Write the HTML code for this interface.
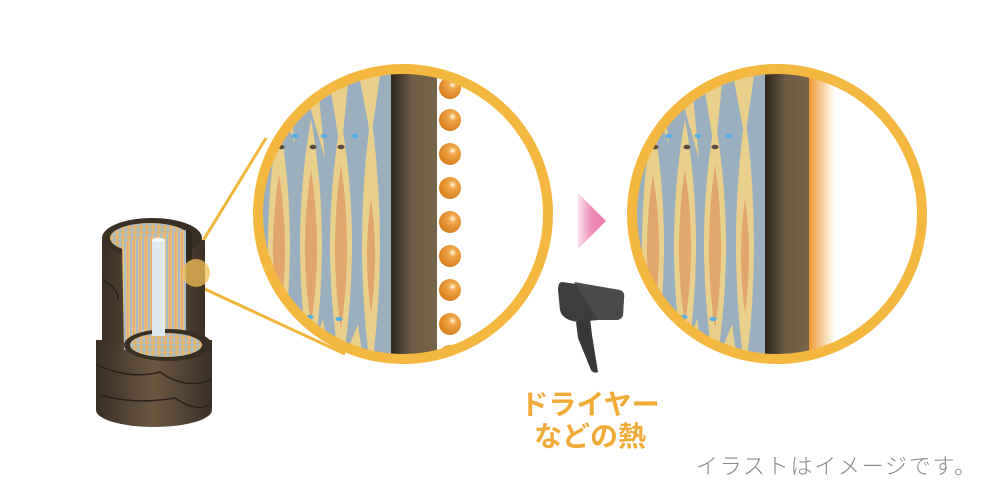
<!DOCTYPE html>
<html><head><meta charset="utf-8"><style>
html,body{margin:0;padding:0;background:#fff;}
svg{display:block;}
</style></head><body>
<svg width="988" height="496" viewBox="0 0 988 496" xmlns="http://www.w3.org/2000/svg">
<defs>
<linearGradient id="brown" x1="0" x2="1" y1="0" y2="0">
<stop offset="0" stop-color="#2e261c"/><stop offset="0.45" stop-color="#6c5c44"/><stop offset="1" stop-color="#76654b"/>
</linearGradient>
<linearGradient id="heat" x1="0" x2="1">
<stop offset="0" stop-color="#ec9a32"/><stop offset="1" stop-color="#ffffff"/>
</linearGradient>
<linearGradient id="pink" x1="0" x2="1">
<stop offset="0" stop-color="#fbe2ee"/><stop offset="0.5" stop-color="#ee8ab6"/><stop offset="1" stop-color="#e97aab"/>
</linearGradient>
<radialGradient id="bead" cx="0.62" cy="0.35" r="0.7">
<stop offset="0" stop-color="#fff6e8"/><stop offset="0.25" stop-color="#f1a84a"/><stop offset="1" stop-color="#d47a16"/>
</radialGradient>
<linearGradient id="bark" x1="0" x2="1">
<stop offset="0" stop-color="#3a2f24"/><stop offset="0.5" stop-color="#6a5740"/><stop offset="1" stop-color="#3b3026"/>
</linearGradient>
<pattern id="fib" width="6" height="10" patternUnits="userSpaceOnUse">
<rect width="6" height="10" fill="#e9c47e"/><rect x="4" width="2" height="10" fill="#a9bccb"/><rect x="1" width="1.5" height="10" fill="#e5a874"/>
</pattern>
<pattern id="dots" width="6" height="5" patternUnits="userSpaceOnUse">
<rect width="6" height="5" fill="#a9bccb"/><circle cx="3" cy="2.5" r="2.3" fill="#e8b66a"/>
</pattern>
<clipPath id="c1"><circle cx="0" cy="0" r="141"/></clipPath>
<g id="cortex">
<rect x="-160" y="-160" width="150" height="320" fill="#9bb0be"/>
<g fill="#e8cf8c">
<path d="M-124,-95 Q-102,30 -124,160 Q-146,30 -124,-95Z"/>
<path d="M-92,-95 Q-70,30 -92,160 Q-114,30 -92,-95Z"/>
<path d="M-62,-95 Q-40,30 -62,160 Q-84,30 -62,-95Z"/>
<path d="M-32,-100 Q-14,30 -32,160 Q-50,30 -32,-100Z"/>
<path d="M-140,-160 L-120,-160 L-108,-70 Z"/>
<path d="M-108,-160 L-88,-160 L-78,-55 Z"/>
<path d="M-78,-160 L-52,-160 L-62,-60 Z"/>
<path d="M-48,-160 L-20,-160 L-32,-75 Z"/>
<path d="M-150,160 L-120,100 L-110,160Z"/>
<path d="M-100,160 L-80,105 L-70,160Z"/>
<path d="M-65,160 L-45,110 L-38,160Z"/>
</g>
<g fill="#e2a66c">
<path d="M-124,-40 Q-112,35 -124,110 Q-136,35 -124,-40Z"/>
<path d="M-92,-45 Q-80,35 -92,110 Q-104,35 -92,-45Z"/>
<path d="M-62,-50 Q-50,35 -62,115 Q-74,35 -62,-50Z"/>
<path d="M-32,-15 Q-24,40 -32,100 Q-40,40 -32,-15Z"/>
</g>
<g fill="#5aaee6">
<ellipse cx="-108" cy="-78" rx="3.5" ry="2.2"/><ellipse cx="-79" cy="-78" rx="3.5" ry="2.2"/><ellipse cx="-48" cy="-78" rx="3.5" ry="2.2"/>
<ellipse cx="-93" cy="103" rx="3.5" ry="2.2"/><ellipse cx="-64" cy="105" rx="3.5" ry="2.2"/>
</g>
<g fill="#5a4c3e">
<ellipse cx="-122" cy="-67" rx="3.5" ry="2.3"/><ellipse cx="-90" cy="-67" rx="3.5" ry="2.3"/><ellipse cx="-62" cy="-67" rx="3.5" ry="2.3"/>
</g>
<rect x="-12" y="-160" width="46" height="320" fill="url(#brown)"/>
</g>
</defs>

<!-- connector lines -->
<line x1="190" y1="262" x2="266" y2="138" stroke="#f2b53e" stroke-width="3"/>
<line x1="196" y1="285" x2="345" y2="354" stroke="#f2b53e" stroke-width="3"/>

<!-- hair cylinder -->
<g>
<path d="M96,340 L96,410 A58,17 0 0 0 212,410 L212,340 Z" fill="url(#bark)"/>
<path d="M102,240 L102,345 L205,345 L205,240 Z" fill="url(#bark)"/>
<path d="M97,365 Q130,380 160,372 Q185,390 211,380" stroke="#2a2219" stroke-width="1.5" fill="none"/>
<path d="M100,395 Q135,405 175,398 Q195,412 210,405" stroke="#2a2219" stroke-width="1.5" fill="none"/>
<path d="M103,280 Q120,290 118,300" stroke="#2a2219" stroke-width="1.5" fill="none"/>
<ellipse cx="152" cy="238" rx="50" ry="20" fill="#3a2f24"/>
<ellipse cx="150" cy="238" rx="40" ry="15" fill="url(#dots)"/>
<polygon points="122,242 186,230 186,338 124,350" fill="url(#fib)"/>
<ellipse cx="168" cy="345" rx="44" ry="16" fill="#3a2f24"/>
<ellipse cx="166" cy="345" rx="36" ry="12" fill="url(#dots)"/>
<rect x="152" y="240" width="13" height="96" fill="#dde9ef"/>
<ellipse cx="158.5" cy="240" rx="6.5" ry="2.2" fill="#f2f7fa"/>
<path d="M186,230 L192,232 L192,262 L186,262Z" fill="#2e251c"/>
<circle cx="196" cy="273" r="14" fill="#f4bf55" opacity="0.75"/>
</g>

<!-- left circle -->
<g transform="translate(403,214)">
<g clip-path="url(#c1)">
<rect x="-150" y="-150" width="300" height="300" fill="#fff"/>
<use href="#cortex"/>
<g fill="url(#bead)">
<circle cx="47" cy="-126" r="11"/><circle cx="47" cy="-94" r="11"/><circle cx="47" cy="-60" r="11"/><circle cx="47" cy="-26" r="11"/>
<circle cx="47" cy="8" r="11"/><circle cx="47" cy="42" r="11"/><circle cx="47" cy="76" r="11"/><circle cx="47" cy="110" r="11"/><circle cx="47" cy="142" r="11"/>
</g>
</g>
<circle cx="0" cy="0" r="145" fill="none" stroke="#f4b740" stroke-width="10"/>
</g>

<!-- right circle -->
<g transform="translate(777,214)">
<g clip-path="url(#c1)">
<rect x="-150" y="-150" width="300" height="300" fill="#fff"/>
<use href="#cortex"/>
<rect x="32" y="-160" width="26" height="320" fill="url(#heat)"/>
</g>
<circle cx="0" cy="0" r="145" fill="none" stroke="#f4b740" stroke-width="10"/>
</g>

<!-- arrow -->
<polygon points="578,193 606,221 578,249" fill="url(#pink)"/>

<!-- dryer -->
<path d="M562,282 L620,290 Q625,292 624,298 L623,315 Q622,320 615,320 L598,320 L578,322 Q562,320 560,310 L558,290 Q558,282 562,282Z" fill="#3d3d3f"/>
<path d="M574,282 L620,290 Q625,292 624,298 L623,315 Q622,320 615,320 L598,320 Z" fill="#4a4a4d"/>
<path d="M576,322 L590,318 L592,335 L598,372 Q594,374 591,370 L578,338 Z" fill="#383839"/>

<text x="590" y="414" text-anchor="middle" font-family="Liberation Sans, Noto Sans CJK JP, sans-serif" font-weight="bold" font-size="28" fill="#f0ab38">ドライヤー</text>
<text x="590" y="446" text-anchor="middle" font-family="Liberation Sans, Noto Sans CJK JP, sans-serif" font-weight="bold" font-size="28" fill="#f0ab38">などの熱</text>
<text x="696" y="474" font-family="Liberation Sans, Noto Sans CJK JP, sans-serif" font-size="22" fill="#8a8a8a" font-weight="300" textLength="280">イラストはイメージです。</text>
</svg>
</body></html>
